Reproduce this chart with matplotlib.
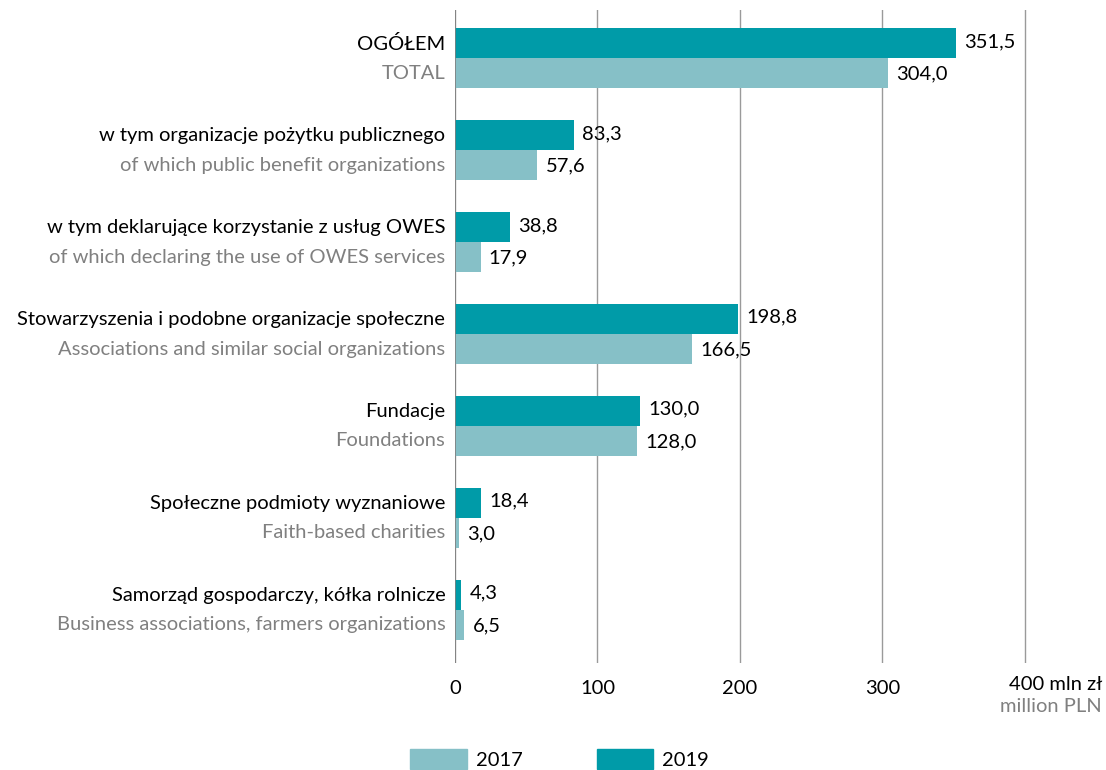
import matplotlib.pyplot as plt
from matplotlib.patches import Patch

plt.rcParams['font.family'] = ['Lato', 'DejaVu Sans']

# kategorie (PL / EN)
labels_pl = ['OGÓŁEM',
             'w tym organizacje pożytku publicznego',
             'w tym deklarujące korzystanie z usług OWES',
             'Stowarzyszenia i podobne organizacje społeczne',
             'Fundacje',
             'Społeczne podmioty wyznaniowe',
             'Samorząd gospodarczy, kółka rolnicze']
labels_en = ['TOTAL',
             'of which public benefit organizations',
             'of which declaring the use of OWES services',
             'Associations and similar social organizations',
             'Foundations',
             'Faith-based charities',
             'Business associations, farmers organizations']
v2019 = [351.5, 83.3, 38.8, 198.8, 130.0, 18.4, 4.3]
v2017 = [304.0, 57.6, 17.9, 166.5, 128.0, 3.0, 6.5]
ticks = [0, 100, 200, 300, 400]

c2019 = '#009ba8'
c2017 = '#86c0c7'
grey = '#808080'
fs = 14.5

fig = plt.figure(figsize=(11.06, 7.7), dpi=100)
ax = fig.add_axes([455 / 1106, 1 - 663 / 770, 572 / 1106, 653 / 770])

h = 0.326
y = list(range(len(v2019)))
ax.barh([i - h / 2 for i in y], v2019, height=h, color=c2019, zorder=3)
ax.barh([i + h / 2 for i in y], v2017, height=h, color=c2017, zorder=3)

for i in y:
    ax.annotate(f'{v2019[i]:.1f}'.replace('.', ','), (v2019[i], i - h / 2),
                xytext=(6, 1), textcoords='offset points', va='center', fontsize=fs)
    ax.annotate(f'{v2017[i]:.1f}'.replace('.', ','), (v2017[i], i + h / 2),
                xytext=(6, -1), textcoords='offset points', va='center', fontsize=fs)
    ax.annotate(labels_pl[i], (0, i), xycoords=('axes fraction', 'data'),
                xytext=(-7, 10), textcoords='offset points', ha='right', va='center',
                fontsize=fs, color='black')
    ax.annotate(labels_en[i], (0, i), xycoords=('axes fraction', 'data'),
                xytext=(-7, -11), textcoords='offset points', ha='right', va='center',
                fontsize=fs, color=grey)

ax.set_xlim(0, 401.5)
ax.set_ylim(6.58, -0.52)
ax.set_xticks(ticks)
ax.set_xticklabels(['0', '100', '200', '300', ''], fontsize=fs)
ax.tick_params(axis='x', length=0, pad=12)
ax.set_yticks([])
for s in ax.spines.values():
    s.set_visible(False)
ax.axvline(0, color=grey, lw=1.2, zorder=4)
ax.grid(axis='x', color='#9a9a9a', lw=1, zorder=0)

fig.text(1102 / 1106, 1 - 684 / 770, '400 mln zł', ha='right', va='center', fontsize=fs)
fig.text(1102 / 1106, 1 - 707 / 770, 'million PLN', ha='right', va='center', fontsize=fs, color=grey)

handles = [Patch(color=c2017, label='2017'), Patch(color=c2019, label='2019')]
fig.legend(handles=handles, loc='center left', bbox_to_anchor=(392 / 1106, 1 - 759 / 770),
           ncol=2, frameon=False, fontsize=fs, handlelength=2.8, handleheight=1.2,
           columnspacing=3.7, handletextpad=0.45)

fig.savefig('out.png', dpi=100)
